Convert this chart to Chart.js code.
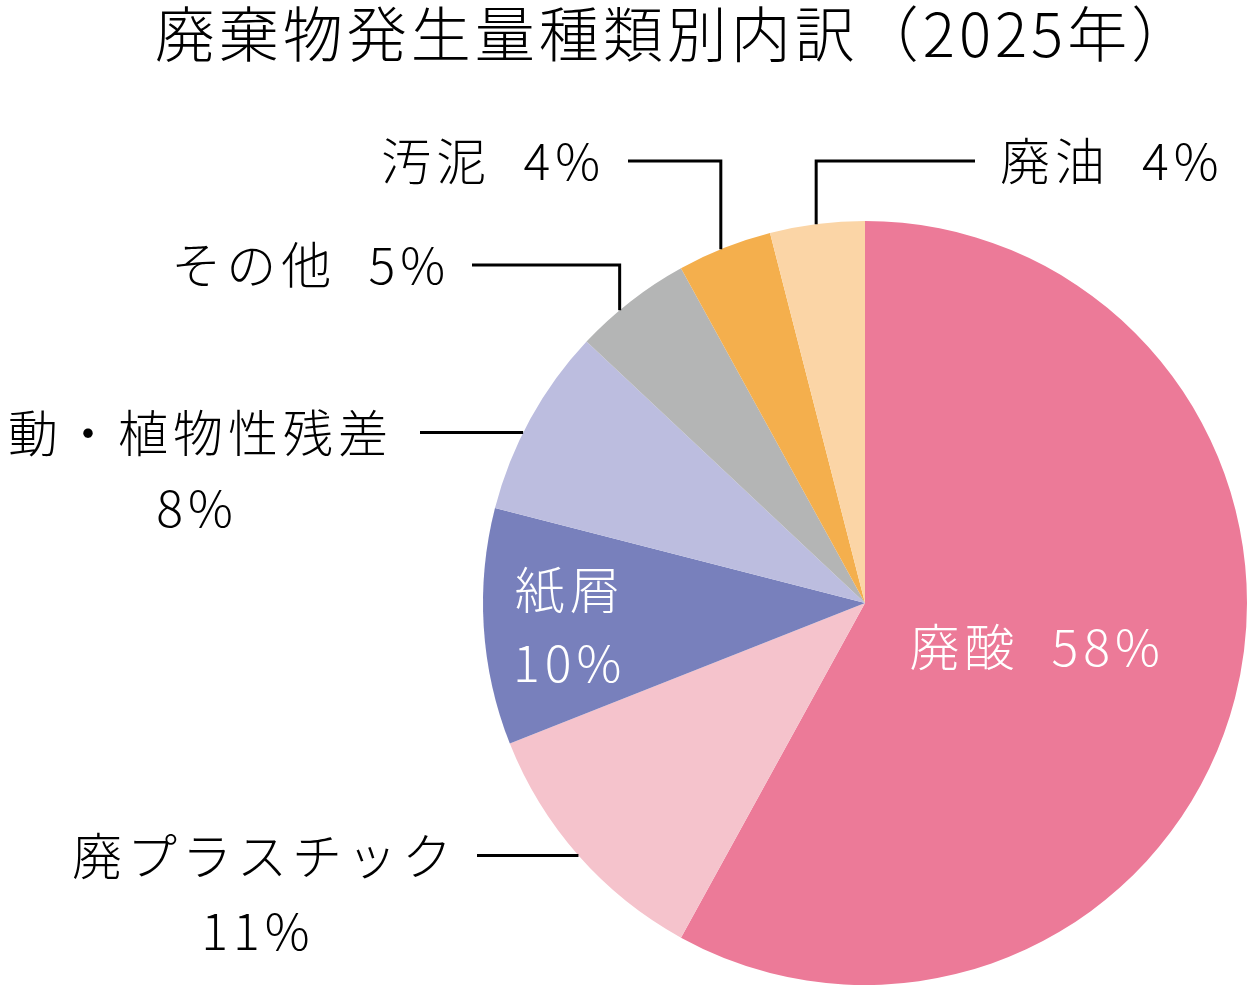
<!DOCTYPE html>
<html lang="ja">
<head>
<meta charset="utf-8">
<title>廃棄物発生量種類別内訳（2025年）</title>
<script src="https://cdn.jsdelivr.net/npm/chart.js@4"></script>
<style>
  html, body { margin: 0; padding: 0; background: #fff; }
  #wrap { width: 1247px; height: 985px; }
</style>
</head>
<body>
<div id="wrap"><canvas id="pie" width="1247" height="985"></canvas></div>
<script>
// data
var titleText = '廃棄物発生量種類別内訳（2025年）';
var categories = ['廃酸', '廃プラスチック', '紙屑', '動・植物性残差', 'その他', '汚泥', '廃油'];
var shares = [58, 11, 10, 8, 5, 4, 4];
var sliceColors = ['#EC7A98', '#F5C3CC', '#7880BC', '#BCBDDF', '#B4B5B5', '#F4AF4D', '#FBD5A6'];

var FONT = '"Noto Sans CJK JP", "Noto Sans", sans-serif';

// where each label goes: 'in' = inside the slice, 'up' = elbow up then sideways, 'side' = straight line
// 'at' = where along the slice the leader line touches the rim (0..1)
var labelStyle = [
  { kind: 'in', r: 0.46, lines: 1 },
  { kind: 'side', at: 0.5, lineEnd: 477, textX: 457, secondX: 258 },
  { kind: 'in', r: 0.78, lines: 2 },
  { kind: 'side', at: 0.42, lineEnd: 420, textX: 393, secondX: 197 },
  { kind: 'up', at: 0.38, y: 265, lineEnd: 472, textX: 450 },
  { kind: 'up', at: 0.46, y: 161, lineEnd: 628, textX: 605 },
  { kind: 'up', at: 0.49, y: 161, lineEnd: 975, textX: 1000 }
];

var labelPlugin = {
  id: 'labels',
  afterDraw: function(chart) {
    var ctx = chart.ctx;
    ctx.save();
    // title
    ctx.fillStyle = '#000';
    ctx.font = '300 60px ' + FONT;
    ctx.letterSpacing = '4px';
    ctx.textAlign = 'center';
    ctx.textBaseline = 'middle';
    ctx.fillText(titleText, 675, 34);

    ctx.font = '300 50px ' + FONT;
    ctx.letterSpacing = '5px';
    ctx.lineWidth = 3;
    ctx.strokeStyle = '#000';
    var arcs = chart.getDatasetMeta(0).data;
    arcs.forEach(function(arc, i) {
      var st = labelStyle[i];
      var R = arc.outerRadius;
      var pct = shares[i] + '%';
      var name = categories[i];
      if (st.kind === 'in') {
        var mid = (arc.startAngle + arc.endAngle) / 2;
        var cx = arc.x + Math.cos(mid) * R * st.r + 2;
        var cy = arc.y + Math.sin(mid) * R * st.r;
        ctx.fillStyle = '#fff';
        ctx.textAlign = 'center';
        if (st.lines === 1) {
          ctx.fillText(name + '  ' + pct, cx, cy);
        } else {
          ctx.fillText(name, cx, cy - 32);
          ctx.fillText(pct, cx, cy + 41);
        }
        return;
      }
      var a = arc.startAngle + (arc.endAngle - arc.startAngle) * st.at;
      var ax = arc.x + Math.cos(a) * R;
      var ay = arc.y + Math.sin(a) * R;
      ctx.fillStyle = '#000';
      ctx.beginPath();
      if (st.kind === 'up') {
        ctx.moveTo(ax, ay);
        ctx.lineTo(ax, st.y);
        ctx.lineTo(st.lineEnd, st.y);
        ctx.stroke();
        ctx.textAlign = st.textX > ax ? 'left' : 'right';
        ctx.fillText(name + '  ' + pct, st.textX, st.y);
      } else {
        ctx.moveTo(ax, ay);
        ctx.lineTo(st.lineEnd, ay);
        ctx.stroke();
        ctx.textAlign = 'right';
        ctx.fillText(name, st.textX, ay);
        ctx.textAlign = 'center';
        ctx.fillText(pct, st.secondX, ay + 75);
      }
    });
    ctx.restore();
  }
};

new Chart(document.getElementById('pie'), {
  type: 'pie',
  data: {
    labels: categories,
    datasets: [{
      data: shares,
      backgroundColor: sliceColors,
      borderWidth: 0
    }]
  },
  options: {
    responsive: false,
    animation: false,
    devicePixelRatio: 1,
    layout: { padding: { left: 483, top: 221, right: 0, bottom: 0 } },
    plugins: {
      legend: { display: false },
      tooltip: { enabled: false },
      title: { display: false }
    }
  },
  plugins: [labelPlugin]
});
</script>
</body>
</html>
